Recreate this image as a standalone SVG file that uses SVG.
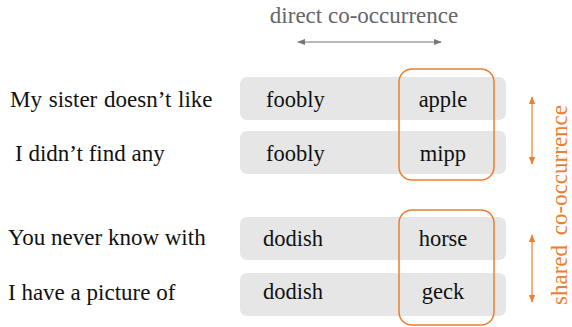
<svg xmlns="http://www.w3.org/2000/svg" width="572" height="327" viewBox="0 0 572 327">
<style>
text{font-family:"Liberation Serif","DejaVu Serif",serif;font-size:23px;fill:#111}
.w{font-size:22.5px}
.row{fill:#e6e6e6}
.sel{fill:none;stroke:#ed7d31;stroke-width:1.5}
.c{text-anchor:middle}
</style>
<defs>
<marker id="ag" viewBox="0 0 10 10" refX="9" refY="5" markerWidth="8" markerHeight="8" orient="auto-start-reverse" markerUnits="userSpaceOnUse"><path d="M0,1 L10,5 L0,9 z" fill="#777"/></marker>
<marker id="ao" viewBox="0 0 10 10" refX="9" refY="5" markerWidth="8" markerHeight="8" orient="auto-start-reverse" markerUnits="userSpaceOnUse"><path d="M0,1 L10,5 L0,9 z" fill="#ed7d31"/></marker>
</defs>
<g id="labels">
<text x="10" y="107" style="word-spacing:1px">My sister doesn’t like</text>
<text x="15" y="161">I didn’t find any</text>
<text x="8" y="245">You never know with</text>
<text x="8" y="300">I have a picture of</text>
</g>
<g id="row1"><rect class="row" x="240" y="77" width="266" height="43" rx="7"/><text class="w" x="266" y="107">foobly</text><text class="w c" x="443" y="107">apple</text></g>
<g id="row2"><rect class="row" x="240" y="131" width="266" height="43" rx="7"/><text class="w" x="266" y="161">foobly</text><text class="w c" x="443" y="161">mipp</text></g>
<g id="row3"><rect class="row" x="240" y="217" width="266" height="43" rx="7"/><text class="w" x="263" y="246">dodish</text><text class="w c" x="443" y="246">horse</text></g>
<g id="row4"><rect class="row" x="240" y="273" width="266" height="43" rx="7"/><text class="w" x="263" y="299">dodish</text><text class="w c" x="443" y="299">geck</text></g>
<g id="box1"><rect class="sel" x="399" y="69" width="95" height="111" rx="13"/></g>
<g id="box2"><rect class="sel" x="399" y="210" width="95" height="115" rx="13"/></g>
<g id="titles">
<text class="c" x="364" y="23" style="fill:#666">direct co-occurrence</text>
<text class="c" transform="translate(567,205) rotate(-90)" style="fill:#ed7d31;word-spacing:4px">shared co-occurrence</text>
</g>
<g id="connectors">
<line x1="298" y1="42" x2="441" y2="42" stroke="#777" stroke-width="1.2" marker-start="url(#ag)" marker-end="url(#ag)"/>
<line x1="532" y1="97" x2="532" y2="164" stroke="#ed7d31" stroke-width="1.2" marker-start="url(#ao)" marker-end="url(#ao)"/>
<line x1="532" y1="235" x2="532" y2="302" stroke="#ed7d31" stroke-width="1.2" marker-start="url(#ao)" marker-end="url(#ao)"/>
</g>
</svg>
